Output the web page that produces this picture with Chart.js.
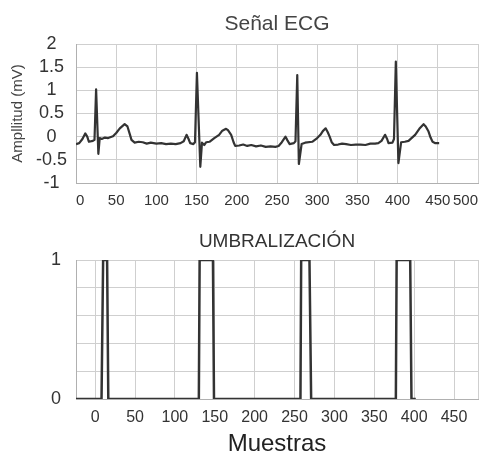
<!DOCTYPE html>
<html>
<head>
<meta charset="utf-8">
<title>Señal ECG</title>
<script src="https://cdn.jsdelivr.net/npm/chart.js@4.4.1/dist/chart.umd.min.js"></script>
<style>
  html, body { margin: 0; padding: 0; background: #fff; }
  #wrap { position: relative; width: 487px; height: 452px; overflow: hidden; }
  .panel { position: absolute; left: 0; width: 487px; }
</style>
</head>
<body>
<div id="wrap">
  <div class="panel" style="top:0;height:215px"><canvas id="ecg" width="487" height="215"></canvas></div>
  <div class="panel" style="top:220px;height:236px"><canvas id="umbral" width="487" height="236"></canvas></div>
</div>

<script>
// ECG trace: sample index and amplitude (mV) at each vertex of the waveform
const ecgSample = [
  0, 4, 8, 11.5, 14, 16, 21, 23, 25, 27.8, 29.5, 32, 36, 40, 46, 50, 54.5, 60.5, 64, 67, 69, 73,
  78, 83, 88, 93, 100, 106, 112, 118, 124, 130,
  134, 137.5, 140, 142, 146, 148, 150.4, 154.6, 156.7, 159.5, 162, 166, 172, 178, 182, 186.6, 189, 193, 196, 198,
  203, 208, 213, 218, 224, 230, 236, 242, 248, 252,
  256, 260.6, 263, 265.6, 271, 273, 275.2, 277.2, 280.6, 285, 293.8, 300, 304, 307, 310.5, 313, 315.5, 318, 321,
  326, 331, 336, 342, 348, 354, 360, 366, 372, 376,
  380, 384.4, 387, 388.7, 393.6, 395.5, 397.8, 401, 404.4, 409, 413.6, 418, 421.8, 427, 432.3, 435, 438.5, 441, 443.5,
  447, 451.7
];
const ecgValue = [
  -0.16, -0.14, -0.05, 0.07, 0.0, -0.11, -0.09, -0.07, 1.02, -0.37, -0.03, -0.05, -0.02, -0.03, 0.01, 0.08, 0.18, 0.27, 0.22, 0.05, -0.07, -0.13,
  -0.11, -0.12, -0.15, -0.13, -0.15, -0.14, -0.16, -0.15, -0.16, -0.14,
  -0.10, 0.04, -0.05, -0.14, -0.16, -0.12, 1.38, -0.65, -0.13, -0.18, -0.12, -0.11, -0.03, 0.04, 0.13, 0.17, 0.14, 0.04, -0.12, -0.20,
  -0.19, -0.17, -0.20, -0.18, -0.21, -0.19, -0.22, -0.21, -0.22, -0.20,
  -0.12, 0.0, -0.08, -0.16, -0.14, -0.10, 1.33, -0.59, -0.16, -0.13, -0.11, -0.03, 0.04, 0.12, 0.18, 0.10, 0.0, -0.12, -0.18,
  -0.17, -0.15, -0.16, -0.18, -0.17, -0.17, -0.18, -0.15, -0.15, -0.14,
  -0.09, 0.04, -0.05, -0.14, -0.13, -0.05, 1.62, -0.57, -0.12, -0.11, -0.09, -0.02, 0.04, 0.17, 0.27, 0.22, 0.11, -0.02, -0.11,
  -0.14, -0.14
];

// thresholded signal (0 / 1)
const umbralSample = [-24, 8, 10, 15, 16.5, 130, 131, 147.7, 149, 257.4, 258.3, 268.7, 270.8, 377, 378, 395, 396.6, 402];
const umbralValue  = [0, 0, 1, 1, 0, 0, 1, 1, 0, 0, 1, 1, 0, 0, 1, 1, 0, 0];

// axis ticks
const ecgXTicks = [0, 50, 100, 150, 200, 250, 300, 350, 400, 450, 500];
const ecgYTicks = [-1, -0.5, 0, 0.5, 1, 1.5, 2];
const umbralXTicks = [0, 50, 100, 150, 200, 250, 300, 350, 400, 450];
const umbralYTicks = [0, 0.2, 0.4, 0.6, 0.8, 1];
const umbralYLabels = [0, 1];

Chart.defaults.font.family = "'Liberation Sans', Arial, sans-serif";
Chart.defaults.color = '#333';

const GRID = '#cfcfcf';
const EDGE = '#b0b0b0';

function toPoints(xs, ys) {
  return xs.map((x, i) => ({ x: x, y: ys[i] }));
}

// replace generated ticks with a fixed list (keeps the axis ends for the frame)
function fixedTicks(list) {
  return function(scale) {
    const vals = [scale.min, ...list.filter(v => v > scale.min && v < scale.max), scale.max];
    scale.ticks = vals.map(v => ({ value: v }));
  };
}

// plain number labels, blank for values not in the list
function labelsFrom(list) {
  return v => list.includes(v) ? String(v) : '';
}

// empty axis on top whose title acts as the heading, centred over the plot
function headingAxis(text, size, color, padTop, height) {
  return {
    type: 'linear',
    axis: 'x',
    position: 'top',
    min: 0,
    max: 1,
    ticks: { display: false },
    grid: { display: false, drawTicks: false },
    border: { display: false },
    title: {
      display: true,
      text: text,
      color: color,
      font: { size: size, weight: 'normal' },
      padding: { top: padTop, bottom: 0 }
    },
    afterFit: s => { s.height = height; }
  };
}

const ecgChart = new Chart(document.getElementById('ecg'), {
  type: 'line',
  data: {
    datasets: [{
      data: toPoints(ecgSample, ecgValue),
      xAxisID: 'x',
      yAxisID: 'y',
      borderColor: '#333',
      borderWidth: 2.2,
      pointRadius: 0,
      tension: 0,
      borderJoinStyle: 'round'
    }]
  },
  options: {
    responsive: false,
    animation: false,
    layout: { padding: { left: 0, right: 8, top: 0, bottom: 0 } },
    plugins: {
      legend: { display: false },
      tooltip: { enabled: false },
      title: { display: false }
    },
    scales: {
      x: {
        type: 'linear',
        min: 0,
        max: 500,
        afterBuildTicks: fixedTicks(ecgXTicks),
        ticks: {
          font: { size: 15 },
          padding: 9,
          align: 'inner',
          maxRotation: 0,
          autoSkip: false,
          callback: labelsFrom(ecgXTicks)
        },
        grid: { color: GRID, drawTicks: false },
        border: { color: EDGE },
        afterFit: s => { s.height = 32; }
      },
      y: {
        min: -1,
        max: 2,
        afterBuildTicks: fixedTicks(ecgYTicks),
        ticks: {
          font: { size: 18 },
          padding: 9,
          crossAlign: 'center',
          autoSkip: false,
          callback: labelsFrom(ecgYTicks)
        },
        grid: { color: GRID, drawTicks: false },
        border: { color: EDGE },
        title: {
          display: true,
          text: 'Ampllitud (mV)',
          color: '#444',
          font: { size: 15 },
          padding: { top: 9, bottom: 0 }
        },
        afterFit: s => { s.width = 76; }
      },
      heading: headingAxis('Señal ECG', 21, '#444', 12, 44)
    }
  }
});

const umbralChart = new Chart(document.getElementById('umbral'), {
  type: 'line',
  data: {
    datasets: [{
      data: toPoints(umbralSample, umbralValue),
      xAxisID: 'x',
      yAxisID: 'y',
      borderColor: '#333',
      borderWidth: 2.5,
      pointRadius: 0,
      tension: 0
    }]
  },
  options: {
    responsive: false,
    animation: false,
    layout: { padding: { left: 0, right: 8, top: 0, bottom: 0 } },
    plugins: {
      legend: { display: false },
      tooltip: { enabled: false },
      title: { display: false }
    },
    scales: {
      x: {
        type: 'linear',
        min: -24,
        max: 480,
        afterBuildTicks: fixedTicks(umbralXTicks),
        ticks: {
          font: { size: 16 },
          padding: 9,
          maxRotation: 0,
          autoSkip: false,
          callback: labelsFrom(umbralXTicks)
        },
        grid: { color: GRID, drawTicks: false },
        border: { color: EDGE },
        title: {
          display: true,
          text: 'Muestras',
          color: '#222',
          font: { size: 24, lineHeight: 1 },
          padding: { top: 0, bottom: 0 }
        },
        afterFit: s => { s.height = 57; }
      },
      y: {
        min: 0,
        max: 1,
        afterBuildTicks: fixedTicks(umbralYTicks),
        ticks: {
          font: { size: 18 },
          padding: 15,
          autoSkip: false,
          callback: labelsFrom(umbralYLabels)
        },
        grid: { color: GRID, drawTicks: false },
        border: { color: EDGE },
        afterFit: s => { s.width = 76; }
      },
      heading: headingAxis('UMBRALIZACIÓN', 19, '#333', 10, 40)
    }
  }
});
</script>
</body>
</html>
